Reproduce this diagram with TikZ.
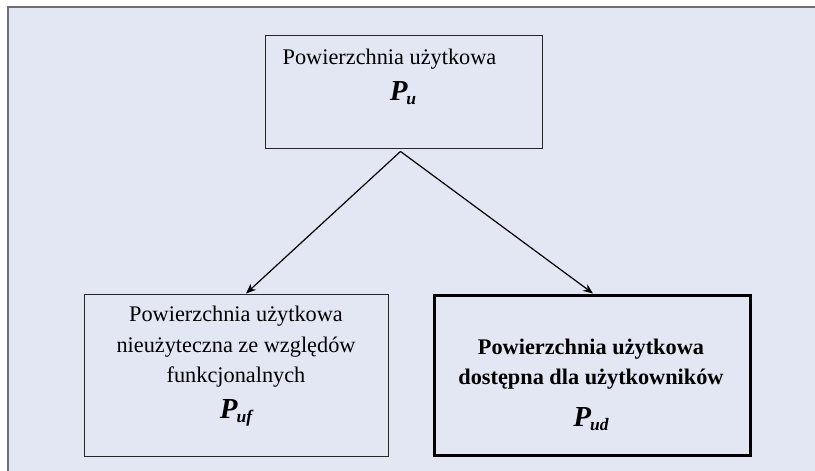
\documentclass[tikz,border=0pt]{standalone}
\usepackage{fontspec}
\setmainfont{Liberation Serif}
\usetikzlibrary{arrows.meta}
\definecolor{bgc}{HTML}{E3E7F4}
\definecolor{framec}{HTML}{6E6E74}
\newcommand{\symP}[1]{{\fontsize{29}{29}\selectfont\bfseries\itshape P\kern-1pt\raisebox{-0.32ex}{\fontsize{17.5}{17.5}\selectfont #1}}}
\tikzset{
  boxthin/.style={draw=black!85, line width=0.9pt, fill=none, inner sep=0pt},
  boxthick/.style={draw=black, line width=3pt, fill=none, inner sep=0pt},
  lbl/.style={font=\fontsize{22.3}{30.5}\selectfont, align=center, inner sep=0pt},
  sym/.style={inner sep=0pt},
  conn/.style={line width=1.2pt, -{Stealth[length=10pt,width=8pt]}}
}
\begin{document}
\begin{tikzpicture}[x=1pt,y=-1pt]
\useasboundingbox (0,0) rectangle (815,471);
\fill[white] (0,0) rectangle (815,471);
\fill[bgc] (8,7) rectangle (815,471);
\draw[framec, line width=1.5pt] (815,7) -- (8,7) -- (8,471);
% boxes
\node[boxthin, minimum width=277pt, minimum height=113pt] (top) at (403.5,91.5) {};
\node[boxthin, minimum width=304pt, minimum height=162pt] (left) at (236,375) {};
\node[boxthick, minimum width=316pt, minimum height=160pt] (right) at (592,375) {};
% texts
\node[lbl, anchor=base] (toptxt) at (389.5,64) {Powierzchnia użytkowa};
\node[sym, anchor=base] (topsym) at (403,100) {\symP{u}};
\node[lbl, anchor=center] (lefttxt) at (236,347) {Powierzchnia użytkowa\\nieużyteczna ze względów\\funkcjonalnych};
\node[sym, anchor=base] (leftsym) at (236,418) {\symP{uf}};
\node[lbl, anchor=center, font=\fontsize{22.3}{30}\selectfont\bfseries] (righttxt) at (591,364) {Powierzchnia użytkowa\\dostępna dla użytkowników};
\node[sym, anchor=base] (rightsym) at (591,426) {\symP{ud}};
% connectors
\coordinate (split) at ([xshift=-3pt,yshift=-3pt]top.south);
\coordinate (lend) at ([xshift=10pt]left.north);
\coordinate (rend) at ([xshift=1pt]right.north);
\draw[conn] (split) -- (lend);
\draw[conn] (split) -- (rend);
\end{tikzpicture}
\end{document}
